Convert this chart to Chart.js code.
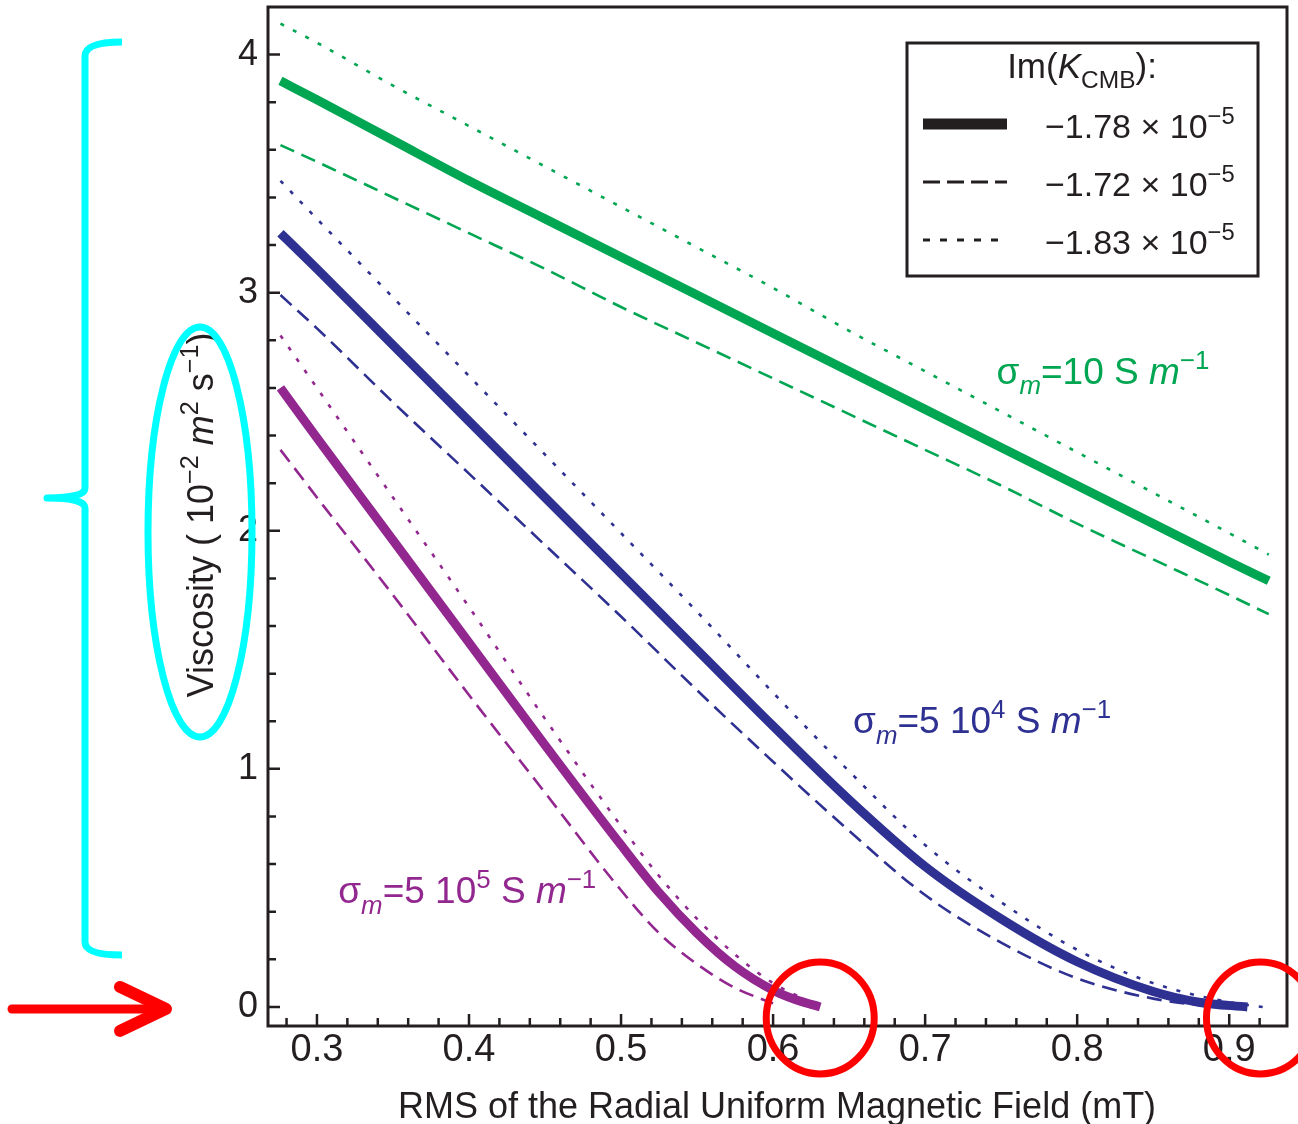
<!DOCTYPE html>
<html>
<head>
<meta charset="utf-8">
<script src="https://cdn.jsdelivr.net/npm/chart.js@4.4.1/dist/chart.umd.min.js"></script>
<style>
  html, body { margin: 0; padding: 0; background: #fff; }
  #wrap { width: 1298px; height: 1124px; }
</style>
</head>
<body>
<div id="wrap"><canvas id="myChart" width="1298" height="1124"></canvas></div>
<script>
// values (x in mT, y in 10^-2 m^2 s^-1)
const greenX      = [0.276, 0.3, 0.35, 0.4, 0.45, 0.5, 0.55, 0.6, 0.65, 0.7, 0.75, 0.8, 0.85, 0.9, 0.926];
const greenSolid  = [3.89, 3.81, 3.64, 3.47, 3.31, 3.15, 2.99, 2.83, 2.67, 2.51, 2.35, 2.19, 2.03, 1.87, 1.79];
const greenDotted = [4.13, 4.05, 3.87, 3.70, 3.53, 3.36, 3.19, 3.02, 2.84, 2.67, 2.50, 2.33, 2.16, 1.99, 1.90];
const greenDashed = [3.62, 3.55, 3.40, 3.25, 3.10, 2.94, 2.79, 2.64, 2.49, 2.34, 2.19, 2.03, 1.88, 1.73, 1.65];

const blueSolidX  = [0.276, 0.3, 0.35, 0.4, 0.45, 0.5, 0.55, 0.6, 0.65, 0.7, 0.75, 0.8, 0.85, 0.88, 0.912];
const blueSolid   = [3.25, 3.10, 2.78, 2.46, 2.14, 1.82, 1.50, 1.18, 0.87, 0.59, 0.37, 0.19, 0.065, 0.02, 0];
const blueDottedX = [0.276, 0.3, 0.35, 0.4, 0.45, 0.5, 0.55, 0.6, 0.65, 0.7, 0.75, 0.8, 0.85, 0.9, 0.922];
const blueDotted  = [3.47, 3.31, 2.98, 2.65, 2.32, 1.99, 1.66, 1.32, 0.99, 0.68, 0.44, 0.24, 0.10, 0.02, 0];
const blueDashedX = [0.276, 0.3, 0.35, 0.4, 0.45, 0.5, 0.55, 0.6, 0.65, 0.7, 0.75, 0.8, 0.85, 0.89];
const blueDashed  = [2.99, 2.85, 2.54, 2.24, 1.94, 1.64, 1.33, 1.03, 0.74, 0.47, 0.27, 0.12, 0.035, 0];

const purpleSolidX  = [0.276, 0.3, 0.35, 0.4, 0.45, 0.5, 0.525, 0.55, 0.575, 0.6, 0.615, 0.631];
const purpleSolid   = [2.60, 2.39, 1.96, 1.53, 1.10, 0.68, 0.48, 0.31, 0.17, 0.07, 0.03, 0];
const purpleDottedX = [0.276, 0.3, 0.35, 0.4, 0.45, 0.5, 0.525, 0.55, 0.575, 0.6, 0.625];
const purpleDotted  = [2.82, 2.60, 2.14, 1.68, 1.21, 0.76, 0.55, 0.37, 0.22, 0.10, 0.02];
const purpleDashedX = [0.276, 0.3, 0.35, 0.4, 0.45, 0.5, 0.525, 0.55, 0.575, 0.6];
const purpleDashed  = [2.34, 2.14, 1.73, 1.31, 0.90, 0.49, 0.31, 0.18, 0.08, 0.015];

const xTicks = [0.3, 0.4, 0.5, 0.6, 0.7, 0.8, 0.9];
const yTicks = [0, 1, 2, 3, 4];
const legendValues = ["1.78", "1.72", "1.83"];

const GREEN = "#00a651", BLUE = "#2e3192", PURPLE = "#92278f", INK = "#231f20";
const FONT = '"Liberation Sans", Arial, sans-serif';

function pts(xs, ys) {
  return ys.map((y, i) => ({ x: xs[i], y: y }));
}

function line(label, data, color, style) {
  const ds = {
    label: label, data: data, borderColor: color, backgroundColor: color,
    pointRadius: 0, fill: false, cubicInterpolationMode: "monotone",
    borderWidth: style === "solid" ? 9 : 2.6, borderCapStyle: "butt"
  };
  if (style === "dashed") ds.borderDash = [15, 8];
  if (style === "dotted") ds.borderDash = [4, 10];
  return ds;
}

// draw text made of parts: {t, i (italic), sub, sup}
function richText(ctx, parts, x, y, size, align, color) {
  const fontOf = p => {
    const s = (p.sub || p.sup) ? size * 0.7 : size;
    return (p.i ? "italic " : "") + s + "px " + FONT;
  };
  let total = 0;
  parts.forEach(p => { ctx.font = fontOf(p); total += ctx.measureText(p.t).width; });
  let cx = align === "center" ? x - total / 2 : (align === "right" ? x - total : x);
  ctx.fillStyle = color;
  ctx.textAlign = "left";
  ctx.textBaseline = "alphabetic";
  parts.forEach(p => {
    ctx.font = fontOf(p);
    const dy = p.sub ? size * 0.28 : (p.sup ? -size * 0.42 : 0);
    ctx.fillText(p.t, cx, y + dy);
    cx += ctx.measureText(p.t).width;
  });
}

const decorations = {
  id: "decorations",
  afterDraw(chart) {
    const ctx = chart.ctx;
    const a = chart.chartArea;
    const xs = chart.scales.x, ys = chart.scales.y;
    ctx.save();

    // frame
    ctx.strokeStyle = INK;
    ctx.lineWidth = 3;
    ctx.strokeRect(a.left, a.top, a.right - a.left, a.bottom - a.top);

    // inward ticks
    ctx.lineWidth = 2.5;
    ctx.beginPath();
    for (let k = 13; k <= 47; k++) {
      const v = k / 50;
      if (v < xs.min || v > xs.max) continue;
      const px = xs.getPixelForValue(v);
      const len = k % 5 === 0 ? 12 : 8;
      ctx.moveTo(px, a.bottom); ctx.lineTo(px, a.bottom - len);
    }
    for (let k = 0; k <= 20; k++) {
      const v = k / 5;
      const py = ys.getPixelForValue(v);
      const len = k % 5 === 0 ? 12 : 8;
      ctx.moveTo(a.left, py); ctx.lineTo(a.left + len, py);
    }
    ctx.stroke();

    // axis titles
    richText(ctx, [{ t: "RMS of the Radial Uniform Magnetic Field (mT)" }], 777, 1118, 36, "center", INK);
    ctx.save();
    ctx.translate(213, 515);
    ctx.rotate(-Math.PI / 2);
    richText(ctx, [{ t: "Viscosity ( 10" }, { t: "\u22122", sup: 1 }, { t: " " }, { t: "m", i: 1 },
      { t: "2", sup: 1 }, { t: " s" }, { t: "\u22121", sup: 1 }, { t: ")" }], 0, 0, 36, "center", INK);
    ctx.restore();

    // curve labels
    const lab = (x, y) => [xs.getPixelForValue(x), ys.getPixelForValue(y)];
    let p = lab(0.747, 2.616);
    richText(ctx, [{ t: "\u03c3" }, { t: "m", i: 1, sub: 1 }, { t: "=10 S " }, { t: "m", i: 1 }, { t: "\u22121", sup: 1 }],
      p[0], p[1], 37, "left", GREEN);
    p = lab(0.6526, 1.149);
    richText(ctx, [{ t: "\u03c3" }, { t: "m", i: 1, sub: 1 }, { t: "=5 10" }, { t: "4", sup: 1 }, { t: " S " }, { t: "m", i: 1 }, { t: "\u22121", sup: 1 }],
      p[0], p[1], 37, "left", BLUE);
    p = lab(0.314, 0.436);
    richText(ctx, [{ t: "\u03c3" }, { t: "m", i: 1, sub: 1 }, { t: "=5 10" }, { t: "5", sup: 1 }, { t: " S " }, { t: "m", i: 1 }, { t: "\u22121", sup: 1 }],
      p[0], p[1], 37, "left", PURPLE);

    // legend box
    const L = 907, T = 43, R = 1258, B = 276;
    ctx.fillStyle = "#fff";
    ctx.fillRect(L, T, R - L, B - T);
    ctx.strokeStyle = INK;
    ctx.lineWidth = 3;
    ctx.setLineDash([]);
    ctx.strokeRect(L, T, R - L, B - T);
    richText(ctx, [{ t: "Im(" }, { t: "K", i: 1 }, { t: "CMB", sub: 1 }, { t: "):" }], 1082, 78, 35, "center", INK);
    const rows = [124, 182, 240];
    const dashes = [[], [17, 7], [7, 10]];
    rows.forEach((ry, i) => {
      ctx.beginPath();
      ctx.setLineDash(dashes[i]);
      ctx.lineWidth = i === 0 ? 11 : 2.8;
      ctx.strokeStyle = INK;
      ctx.lineCap = "butt";
      ctx.moveTo(923, ry); ctx.lineTo(1007, ry);
      ctx.stroke();
      richText(ctx, [{ t: "\u2212" + legendValues[i] + " \u00d7 10" }, { t: "\u22125", sup: 1 }], 1045, ry + 14, 34, "left", INK);
    });
    ctx.setLineDash([]);

    // overlaid highlight marks
    ctx.strokeStyle = "#00ffff";
    ctx.lineWidth = 7;
    ctx.lineJoin = "round";
    ctx.beginPath();
    ctx.moveTo(122, 42);
    ctx.quadraticCurveTo(85, 42, 85, 56);
    ctx.lineTo(85, 488);
    ctx.quadraticCurveTo(85, 498, 47, 498);
    ctx.quadraticCurveTo(85, 498, 85, 508);
    ctx.lineTo(85, 942);
    ctx.quadraticCurveTo(85, 955, 122, 955);
    ctx.stroke();
    ctx.beginPath();
    ctx.ellipse(200, 532, 52, 205, 0, 0, Math.PI * 2);
    ctx.stroke();

    ctx.strokeStyle = "#ff0000";
    ctx.lineWidth = 7;
    const zero = ys.getPixelForValue(0);
    [[purpleSolidX, 0], [blueSolidX, 13]].forEach(s => {
      const cx = xs.getPixelForValue(s[0][s[0].length - 1]) + s[1];
      ctx.beginPath();
      ctx.ellipse(cx, zero + 11, 54, 56, 0, 0, Math.PI * 2);
      ctx.stroke();
    });
    ctx.lineWidth = 9;
    ctx.lineCap = "round";
    ctx.beginPath();
    ctx.moveTo(12, zero + 2); ctx.lineTo(150, zero + 2);
    ctx.stroke();
    ctx.lineWidth = 12;
    ctx.beginPath();
    ctx.moveTo(120, zero - 20); ctx.lineTo(166, zero + 2); ctx.lineTo(120, zero + 24);
    ctx.stroke();

    ctx.restore();
  }
};

const ctx = document.getElementById("myChart").getContext("2d");
const myChart = new Chart(ctx, {
  type: "line",
  data: {
    datasets: [
      line("green dotted", pts(greenX, greenDotted), GREEN, "dotted"),
      line("green dashed", pts(greenX, greenDashed), GREEN, "dashed"),
      line("green solid", pts(greenX, greenSolid), GREEN, "solid"),
      line("blue dotted", pts(blueDottedX, blueDotted), BLUE, "dotted"),
      line("blue dashed", pts(blueDashedX, blueDashed), BLUE, "dashed"),
      line("blue solid", pts(blueSolidX, blueSolid), BLUE, "solid"),
      line("purple dotted", pts(purpleDottedX, purpleDotted), PURPLE, "dotted"),
      line("purple dashed", pts(purpleDashedX, purpleDashed), PURPLE, "dashed"),
      line("purple solid", pts(purpleSolidX, purpleSolid), PURPLE, "solid")
    ]
  },
  options: {
    responsive: false,
    animation: false,
    devicePixelRatio: 1,
    layout: { padding: { top: 7, right: 11, left: 0, bottom: 0 } },
    plugins: { legend: { display: false }, tooltip: { enabled: false } },
    scales: {
      x: {
        type: "linear", min: 0.2678, max: 0.938,
        grid: { display: false, drawTicks: false },
        border: { display: false },
        afterBuildTicks: s => { s.ticks = xTicks.map(v => ({ value: v })); },
        afterFit: s => { s.height = 98; s.paddingLeft = 0; s.paddingRight = 0; },
        ticks: { padding: 2, color: INK, font: { size: 38, family: FONT }, callback: v => v.toFixed(1), maxRotation: 0, autoSkip: false }
      },
      y: {
        min: -0.08, max: 4.2,
        grid: { display: false, drawTicks: false },
        border: { display: false },
        afterBuildTicks: s => { s.ticks = yTicks.map(v => ({ value: v })); },
        afterFit: s => { s.width = 268; s.paddingTop = 0; s.paddingBottom = 0; },
        ticks: { padding: 10, color: INK, font: { size: 36, family: FONT }, callback: v => String(v), autoSkip: false }
      }
    }
  },
  plugins: [decorations]
});
</script>
</body>
</html>
